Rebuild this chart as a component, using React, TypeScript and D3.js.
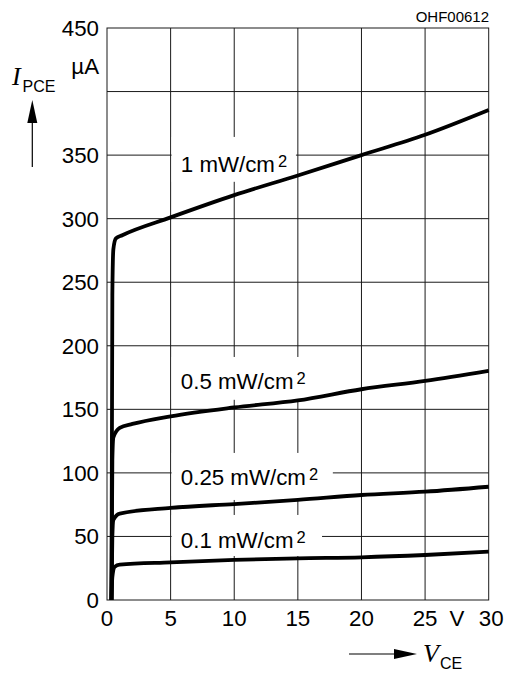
import React from "react";
import * as d3 from "d3";

// Data (V in volts, I in µA)
const v1 = [0.35, 0.42, 0.5, 0.7, 1.2, 5, 10, 15, 20, 25, 30];
const i1 = [0, 240, 276, 284.5, 287, 301, 318.5, 334, 350, 366, 385.5];
const v05 = [0.35, 0.42, 0.5, 1.0, 2.0, 5, 10, 15, 20, 25, 30];
const i05 = [0, 110, 128, 135.5, 138.5, 144.5, 151.5, 157, 165.8, 172.3, 180.2];
const v025 = [0.35, 0.42, 0.5, 1.0, 5, 10, 15, 20, 25, 30];
const i025 = [0, 50, 63, 68, 72.4, 75.5, 78.7, 82.6, 85.2, 89.1];
const v01 = [0.35, 0.42, 0.6, 1.0, 5, 10, 15, 20, 25, 30];
const i01 = [0, 18, 26, 27.8, 29.6, 31.5, 32.8, 33.6, 35.4, 38];

const seriesNames = ["1 mW/cm", "0.5 mW/cm", "0.25 mW/cm", "0.1 mW/cm"];
const xTicks = [0, 5, 10, 15, 20, 25, 30];
const xTickLabels = ["0", "5", "10", "15", "20", "25", "30"];
const yTicks = [0, 50, 100, 150, 200, 250, 300, 350, 450];
const gridX = [5, 10, 15, 20, 25];
const gridY = [50, 100, 150, 200, 250, 300, 350, 400];

// label anchors (data coordinates): text start V, baseline I, box [v0, v1, iTop, iBottom]
const labelTextV = [5.8, 5.8, 5.8, 5.8];
const labelTextI = [337, 165.8, 90.5, 40.7];
const labelBoxV1 = [14.85, 15.95, 17.75, 16.9];
const labelBoxTop = [364.3, 191.2, 115.7, 66.9];
const labelBoxBottom = [329, 157.5, 78.7, 34.6];

export default function App() {
  const W = 515;
  const H = 673;
  const x = d3.scaleLinear().domain([0, 30]).range([107, 488.7]);
  const y = d3.scaleLinear().domain([0, 450]).range([600, 28]);
  const series = [
    [v1, i1],
    [v05, i05],
    [v025, i025],
    [v01, i01],
  ];
  const line = d3
    .line<[number, number]>()
    .x((d) => x(d[0]))
    .y((d) => y(d[1]))
    .curve(d3.curveMonotoneX);

  const sans = "'Liberation Sans', Arial, sans-serif";
  const serif = "'Liberation Serif', 'Times New Roman', serif";
  const gridColor = "#1a1a1a";
  const fs = 22.3;

  return (
    <svg
      width={W}
      height={H}
      style={{ position: "absolute", left: 0, top: 0, background: "#fff" }}
      fontFamily={sans}
    >
      <rect x={0} y={0} width={W} height={H} fill="#fff" />
      {/* grid */}
      {gridX.map((g) => (
        <line key={"gx" + g} x1={x(g)} x2={x(g)} y1={y(0)} y2={y(450)} stroke={gridColor} strokeWidth={1} />
      ))}
      {gridY.map((g) => (
        <line key={"gy" + g} x1={x(0)} x2={x(30)} y1={y(g)} y2={y(g)} stroke={gridColor} strokeWidth={1} />
      ))}
      <rect x={x(0)} y={y(450)} width={x(30) - x(0)} height={y(0) - y(450)} fill="none" stroke={gridColor} strokeWidth={1} />

      {/* label boxes masking grid */}
      {seriesNames.map((n, k) => (
        <rect
          key={"box" + k}
          x={x(5) + 1}
          y={y(labelBoxTop[k])}
          width={x(labelBoxV1[k]) - x(5) - 1}
          height={y(labelBoxBottom[k]) - y(labelBoxTop[k])}
          fill="#fff"
        />
      ))}

      {/* curves */}
      {series.map(([vs, is], k) => (
        <path
          key={"s" + k}
          d={line(vs.map((v, j) => [v, is[j]] as [number, number])) || ""}
          fill="none"
          stroke="#000"
          strokeWidth={3.8}
          strokeLinejoin="round"
        />
      ))}

      {/* curve labels */}
      {seriesNames.map((n, k) => (
        <text key={"lab" + k} x={x(labelTextV[k])} y={y(labelTextI[k])} fontSize={fs} fill="#000">
          {n}
          <tspan dx={3} dy={-5} fontSize={16.5}>
            2
          </tspan>
        </text>
      ))}

      {/* y tick labels */}
      {yTicks.map((t) => (
        <text key={"yt" + t} x={99} y={y(t)} dy="0.36em" textAnchor="end" fontSize={fs} fill="#000">
          {t}
        </text>
      ))}
      <text x={99} y={73.5} textAnchor="end" fontSize={fs} fill="#000">
        µA
      </text>

      {/* x tick labels */}
      {xTicks.map((t, k) => (
        <text key={"xt" + t} x={x(t) + (t === 30 ? 2.5 : 0)} y={626} textAnchor="middle" fontSize={fs} fill="#000">
          {xTickLabels[k]}
        </text>
      ))}
      <text x={457} y={626} textAnchor="middle" fontSize={fs} fill="#000">
        V
      </text>

      {/* code */}
      <text x={489} y={21.7} textAnchor="end" fontSize={15} fill="#000">
        OHF00612
      </text>

      {/* y axis title */}
      <text x={12} y={85} fontFamily={serif} fontStyle="italic" fontSize={26} fill="#000">
        I
      </text>
      <text x={22.5} y={91.7} fontSize={16} fill="#000">
        PCE
      </text>
      <line x1={32.3} x2={32.3} y1={167} y2={118} stroke="#000" strokeWidth={1.2} />
      <path d="M32.3,100 L27.3,123 L37.3,123 Z" fill="#000" />

      {/* x axis title */}
      <line x1={349} x2={398} y1={654} y2={654} stroke="#000" strokeWidth={1.2} />
      <path d="M417,654 L394,649 L394,659 Z" fill="#000" />
      <text x={423} y={662} fontFamily={serif} fontStyle="italic" fontSize={26} fill="#000">
        V
      </text>
      <text x={440} y={668.5} fontSize={16} fill="#000">
        CE
      </text>
    </svg>
  );
}
